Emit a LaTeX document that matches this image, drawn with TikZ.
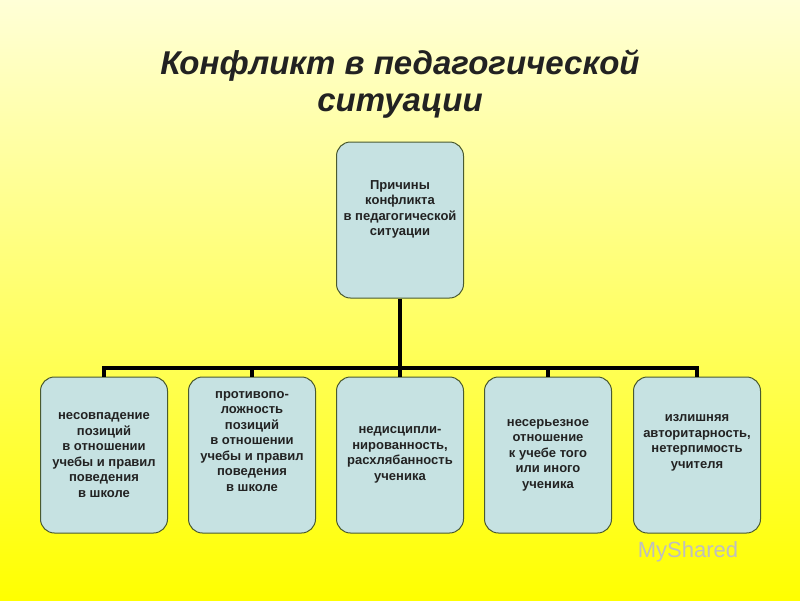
\documentclass[tikz,border=0pt]{standalone}
\usepackage{fontspec}
\setmainfont{Liberation Sans}
\definecolor{boxfill}{HTML}{C6E2E2}
\definecolor{boxline}{HTML}{4A5A30}
\definecolor{txt}{HTML}{222222}
\tikzset{
  box/.style={draw=boxline, line width=1pt, fill=boxfill, rounded corners=14pt,
    minimum width=127pt, minimum height=156pt, align=center, text=txt,
    font=\bfseries\fontsize{13}{15.5}\selectfont, inner sep=2pt},
  link/.style={line width=4pt, black}
}
\begin{document}
\begin{tikzpicture}[x=1pt,y=-1pt]
\useasboundingbox (0,0) rectangle (800,600);
\shade[top color={rgb,255:red,255;green,255;blue,215}, bottom color={rgb,255:red,255;green,255;blue,0}] (0,0) rectangle (800,600);
\node (title) at (400,84) [align=center, text=txt, font=\bfseries\itshape\fontsize{33}{37}\selectfont] {Конфликт в педагогической\\ситуации};
\node[box] (top) at (400,220) {Причины\\конфликта\\в педагогической\\ситуации\\[8pt]};
\node[box] (b1) at (104,455) {несовпадение\\позиций\\в отношении\\учебы и правил\\поведения\\в школе};
\node[box] (b2) at (252,455) {противопо-\\ложность\\позиций\\в отношении\\учебы и правил\\поведения\\в школе\\[12pt]};
\node[box] (b3) at (400,455) {недисципли-\\нированность,\\расхлябанность\\ученика};
\node[box] (b4) at (548,455) {несерьезное\\отношение\\к учебе того\\или иного\\ученика};
\node[box] (b5) at (697,455) {излишняя\\авторитарность,\\нетерпимость\\учителя\\[12pt]};
\coordinate (bar) at (400,368);
\draw[link] (top.south) -- (bar);
\foreach \b in {b1,b2,b3,b4,b5}
  \draw[link] (top.south |- bar) -| (\b.north);
\node (wm) at (688,552) [text=black!25, font=\fontsize{22}{24}\selectfont] {MyShared};
\end{tikzpicture}
\end{document}
